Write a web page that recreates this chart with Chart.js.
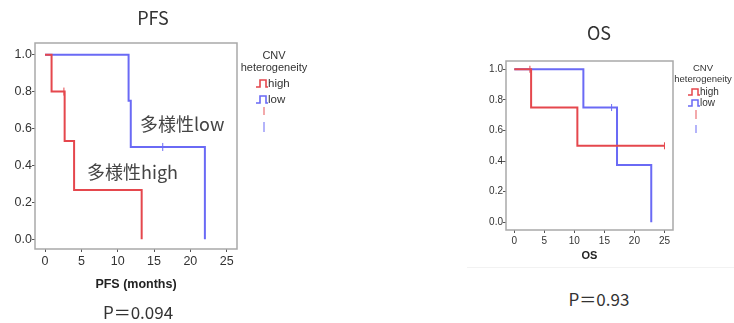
<!DOCTYPE html>
<html>
<head>
<meta charset="utf-8">
<script src="https://cdn.jsdelivr.net/npm/chart.js@4"></script>
<style>
  body { margin: 0; background: #fff; width: 734px; height: 323px; position: relative; overflow: hidden; }
  canvas { position: absolute; }
  .txt { position: absolute; white-space: nowrap; color: #333; }
  .jp { font-family: "Noto Sans CJK JP", "Noto Sans", sans-serif; }
  .leg { position: absolute; font-family: "Liberation Sans", Arial, sans-serif; color: #333; text-align: center; }
  .item { position: absolute; font-family: "Liberation Sans", Arial, sans-serif; color: #333; display: flex; align-items: center; }
  .mark { position: absolute; width: 1.5px; }
</style>
</head>
<body>
<canvas id="pfs" width="250" height="300" style="left:0;top:0"></canvas>
<canvas id="os" width="264" height="270" style="left:470px;top:0"></canvas>

<div class="txt jp" style="left:153px;top:17px;transform:translate(-50%,-50%);font-size:18px">PFS</div>
<div class="txt jp" style="left:138px;top:311px;transform:translate(-50%,-50%);font-size:17px">P＝0.094</div>
<div class="txt jp" style="left:140px;top:123px;transform:translateY(-50%);font-size:18px;color:#444">多様性low</div>
<div class="txt jp" style="left:87px;top:171px;transform:translateY(-50%);font-size:18px;color:#444">多様性high</div>

<div class="txt jp" style="left:599px;top:32px;transform:translate(-50%,-50%);font-size:18px">OS</div>
<div class="txt jp" style="left:599px;top:298px;transform:translate(-50%,-50%);font-size:17px">P＝0.93</div>
<div style="position:absolute;left:467px;top:267px;width:267px;height:1px;background:#f2f2f2"></div>

<!-- legend, PFS -->
<div class="leg" style="left:236px;top:49px;width:76px;font-size:11px;line-height:12px">CNV<br>heterogeneity</div>
<div class="item" style="left:256px;top:75px;font-size:11.5px;line-height:16px">
  <svg width="12" height="9"><path d="M0,8 H4 V1 H10 V8 H12" fill="none" stroke="#e5474d" stroke-width="1.6"/></svg>high</div>
<div class="item" style="left:256px;top:91px;font-size:11.5px;line-height:16px">
  <svg width="12" height="9"><path d="M0,8 H4 V1 H10 V8 H12" fill="none" stroke="#6a6af5" stroke-width="1.6"/></svg>low</div>
<div class="mark" style="left:263px;top:107px;height:8px;background:#f3a9ab"></div>
<div class="mark" style="left:263px;top:122px;height:10px;background:#b4b4fa"></div>

<!-- legend, OS -->
<div class="leg" style="left:672px;top:63px;width:62px;font-size:9.5px;line-height:10.5px">CNV<br>heterogeneity</div>
<div class="item" style="left:688px;top:86px;font-size:10px;line-height:12px">
  <svg width="12" height="8"><path d="M0,7 H4 V1 H10 V7 H12" fill="none" stroke="#e5474d" stroke-width="1.5"/></svg>high</div>
<div class="item" style="left:688px;top:97px;font-size:10px;line-height:12px">
  <svg width="12" height="8"><path d="M0,7 H4 V1 H10 V7 H12" fill="none" stroke="#6a6af5" stroke-width="1.5"/></svg>low</div>
<div class="mark" style="left:695px;top:110px;height:9px;background:#f3a9ab"></div>
<div class="mark" style="left:695px;top:125px;height:8px;background:#b4b4fa"></div>

<script>
const xTicks = [0, 5, 10, 15, 20, 25];
const yTicks = [0, 0.2, 0.4, 0.6, 0.8, 1.0];

// PFS, step points (time, survival) and censored marks
const pfsHighT = [0, 0.9, 2.7, 4.0, 13.3];
const pfsHighS = [1, 0.8, 0.533, 0.267, 0];
const pfsHighCensT = [2.6];
const pfsHighCensS = [0.8];
const pfsLowT = [0, 11.5, 11.8, 22.0];
const pfsLowS = [1, 0.75, 0.5, 0];
const pfsLowCensT = [16.2];
const pfsLowCensS = [0.5];

// OS
const osHighT = [0, 2.8, 10.5, 25];
const osHighS = [1, 0.75, 0.5, 0.5];
const osHighCensT = [2.6, 25];
const osHighCensS = [1, 0.5];
const osLowT = [0, 11.5, 17.1, 22.8];
const osLowS = [1, 0.75, 0.375, 0];
const osLowCensT = [16.2];
const osLowCensS = [0.75];

const red = '#e5474d';
const blue = '#6a6af5';

function pts(t, s) {
  return t.map((v, i) => ({x: v, y: s[i]}));
}

const framePlugin = {
  id: 'frame',
  beforeDatasetsDraw(chart) {
    const a = chart.chartArea;
    const ctx = chart.ctx;
    ctx.save();
    ctx.strokeStyle = '#a9a9a9';
    ctx.lineWidth = 1.5;
    ctx.strokeRect(a.left, a.top, a.right - a.left, a.bottom - a.top);
    ctx.restore();
  }
};

function kmChart(id, o) {
  const stepLine = (t, s, c) => ({
    type: 'line', data: pts(t, s), borderColor: c, borderWidth: 2,
    stepped: 'before', pointRadius: 0, fill: false
  });
  const censor = (t, s, c) => ({
    type: 'scatter', data: pts(t, s), borderColor: c, backgroundColor: c,
    pointStyle: 'line', pointRotation: 90, pointRadius: o.censR, borderWidth: 1
  });
  new Chart(document.getElementById(id), {
    type: 'line',
    data: {
      datasets: [
        stepLine(o.hiT, o.hiS, red),
        stepLine(o.loT, o.loS, blue),
        censor(o.hiCT, o.hiCS, red),
        censor(o.loCT, o.loCS, blue)
      ]
    },
    options: {
      responsive: false,
      animation: false,
      devicePixelRatio: 1,
      layout: {padding: {top: o.top, right: o.right, left: 0, bottom: 0}},
      plugins: {legend: {display: false}, tooltip: {enabled: false}},
      scales: {
        x: {
          type: 'linear', min: -1.38, max: 26.42,
          afterBuildTicks: s => { s.ticks = xTicks.map(v => ({value: v})); },
          afterFit: s => { s.height = o.xH; },
          grid: {drawOnChartArea: false, tickLength: o.tl, color: '#555'},
          border: {display: false},
          ticks: {padding: o.xPad, color: '#333', font: {family: 'Liberation Sans', size: o.fs}},
          title: {display: true, text: o.xTitle, color: '#222',
                  font: {family: 'Liberation Sans', size: o.titleFs, weight: 'bold'},
                  padding: {top: 0, bottom: o.titlePad}}
        },
        y: {
          type: 'linear', min: o.yMin, max: o.yMax,
          afterBuildTicks: s => { s.ticks = yTicks.map(v => ({value: v})); },
          afterFit: s => { s.width = o.yW; },
          grid: {drawOnChartArea: false, tickLength: o.tl, color: '#555'},
          border: {display: false},
          ticks: {padding: 0, color: '#333', font: {family: 'Liberation Sans', size: o.fs},
                  callback: v => v.toFixed(1)}
        }
      }
    },
    plugins: [framePlugin]
  });
}

kmChart('pfs', {
  hiT: pfsHighT, hiS: pfsHighS, hiCT: pfsHighCensT, hiCS: pfsHighCensS,
  loT: pfsLowT, loS: pfsLowS, loCT: pfsLowCensT, loCS: pfsLowCensS,
  top: 43, right: 13, xH: 51, yW: 35, yMin: -0.0525, yMax: 1.063,
  tl: 3, xPad: 2, fs: 12.5, censR: 4, xTitle: 'PFS (months)', titleFs: 12.5, titlePad: 8
});

kmChart('os', {
  hiT: osHighT, hiS: osHighS, hiCT: osHighCensT, hiCS: osHighCensS,
  loT: osLowT, loS: osLowS, loCT: osLowCensT, loCS: osLowCensS,
  top: 61, right: 61, xH: 40, yW: 36, yMin: -0.05, yMax: 1.054,
  tl: 3, xPad: 2, fs: 10, censR: 3.5, xTitle: 'OS', titleFs: 11, titlePad: 7
});
</script>
</body>
</html>
